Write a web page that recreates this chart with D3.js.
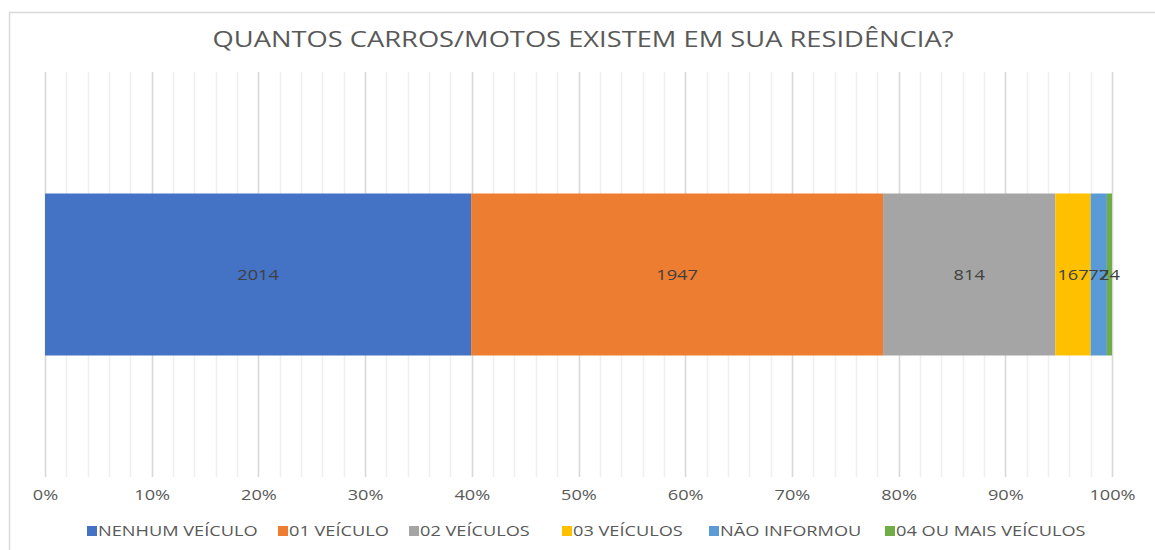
<!DOCTYPE html>
<html>
<head>
<meta charset="utf-8">
<script src="https://cdn.jsdelivr.net/npm/d3@7"></script>
<style>
  body { margin: 0; background: #fff; }
  text { font-family: "Open Sans", "Liberation Sans", sans-serif; }
</style>
</head>
<body>
<div id="chart"></div>
<script>
// data
var categories = ["NENHUM VEÍCULO", "01 VEÍCULO", "02 VEÍCULOS", "03 VEÍCULOS", "NÃO INFORMOU", "04 OU MAIS VEÍCULOS"];
var values = [2014, 1947, 814, 167, 77, 24];
var colors = ["#4472c4", "#ed7d31", "#a5a5a5", "#ffc000", "#5b9bd5", "#70ad47"];
var tickValues = [0, 0.1, 0.2, 0.3, 0.4, 0.5, 0.6, 0.7, 0.8, 0.9, 1];
var legendX = [87, 278, 409, 562, 709, 885];

var width = 1155;
var height = 550;

var plotLeft = 45;
var plotRight = 1112;
var plotTop = 72;
var plotBottom = 477;

// the original screenshot is stretched sideways, text too
var stretch = 1.3;

var svg = d3.select("#chart")
  .append("svg")
  .attr("width", width)
  .attr("height", height);

// chart frame
svg.append("rect")
  .attr("x", 9.5)
  .attr("y", 12.5)
  .attr("width", 1160)
  .attr("height", 560)
  .attr("fill", "#fff")
  .attr("stroke", "#d9d9d9")
  .attr("stroke-width", 1.5);

// title
svg.append("g")
  .attr("transform", "translate(583,47)")
  .append("text")
  .attr("text-anchor", "middle")
  .attr("transform", "scale(" + stretch + ",1)")
  .attr("font-size", "21px")
  .attr("fill", "#595959")
  .text("QUANTOS CARROS/MOTOS EXISTEM EM SUA RESIDÊNCIA?");

var total = d3.sum(values);

var xScale = d3.scaleLinear()
  .domain([0, 1])
  .range([plotLeft, plotRight]);

var yScale = d3.scaleBand()
  .domain(["row"])
  .range([plotTop, plotBottom])
  .paddingInner(0.6)
  .paddingOuter(0.3);

// minor gridlines every 2%
svg.append("g")
  .selectAll("line")
  .data(d3.range(0, 51).map(function(i) { return i / 50; }))
  .enter()
  .append("line")
  .attr("x1", function(d) { return Math.round(xScale(d)) + 0.5; })
  .attr("x2", function(d) { return Math.round(xScale(d)) + 0.5; })
  .attr("y1", plotTop)
  .attr("y2", plotBottom)
  .attr("stroke", "#efefef")
  .attr("stroke-width", 1.5);

// major gridlines every 10%
svg.append("g")
  .selectAll("line")
  .data(tickValues)
  .enter()
  .append("line")
  .attr("x1", function(d) { return Math.round(xScale(d)) + 0.5; })
  .attr("x2", function(d) { return Math.round(xScale(d)) + 0.5; })
  .attr("y1", plotTop)
  .attr("y2", plotBottom)
  .attr("stroke", "#d9d9d9")
  .attr("stroke-width", 1.5);

// stacked shares
var segs = [];
var acc = 0;
values.forEach(function(v, i) {
  segs.push({ name: categories[i], value: v, x0: acc / total, x1: (acc + v) / total, color: colors[i] });
  acc += v;
});

svg.append("g")
  .selectAll("rect")
  .data(segs)
  .enter()
  .append("rect")
  .attr("x", function(d) { return xScale(d.x0); })
  .attr("width", function(d) { return xScale(d.x1) - xScale(d.x0); })
  .attr("y", yScale("row"))
  .attr("height", yScale.bandwidth())
  .attr("fill", function(d) { return d.color; });

svg.append("g")
  .selectAll("g")
  .data(segs)
  .enter()
  .append("g")
  .attr("transform", function(d) {
    return "translate(" + (xScale(d.x0) + xScale(d.x1)) / 2 + "," + (yScale("row") + yScale.bandwidth() / 2 + 5) + ")";
  })
  .append("text")
  .attr("text-anchor", "middle")
  .attr("transform", "scale(" + stretch + ",1)")
  .attr("font-size", "14px")
  .attr("fill", "#404040")
  .text(function(d) { return d.value; });

// x axis labels
var xAxis = d3.axisBottom(xScale)
  .tickValues(tickValues)
  .tickFormat(d3.format(".0%"))
  .tickSize(0)
  .tickPadding(11);

var axisG = svg.append("g")
  .attr("transform", "translate(0," + (plotBottom + 2) + ")")
  .call(xAxis);
axisG.select(".domain").remove();
axisG.selectAll("text")
  .attr("transform", "scale(" + stretch + ",1)")
  .attr("font-size", "14px")
  .attr("fill", "#595959")
  .style("font-family", "'Open Sans', sans-serif");

// legend
var legend = svg.append("g")
  .selectAll("g")
  .data(categories)
  .enter()
  .append("g")
  .attr("transform", function(d, i) { return "translate(" + legendX[i] + ",531)"; });

legend.append("rect")
  .attr("x", 0)
  .attr("y", -5)
  .attr("width", 10)
  .attr("height", 10)
  .attr("fill", function(d, i) { return colors[i]; });

legend.append("text")
  .attr("x", 11 / stretch)
  .attr("y", 5)
  .attr("transform", "scale(" + stretch + ",1)")
  .attr("font-size", "14px")
  .attr("fill", "#595959")
  .text(function(d) { return d; });
</script>
</body>
</html>
